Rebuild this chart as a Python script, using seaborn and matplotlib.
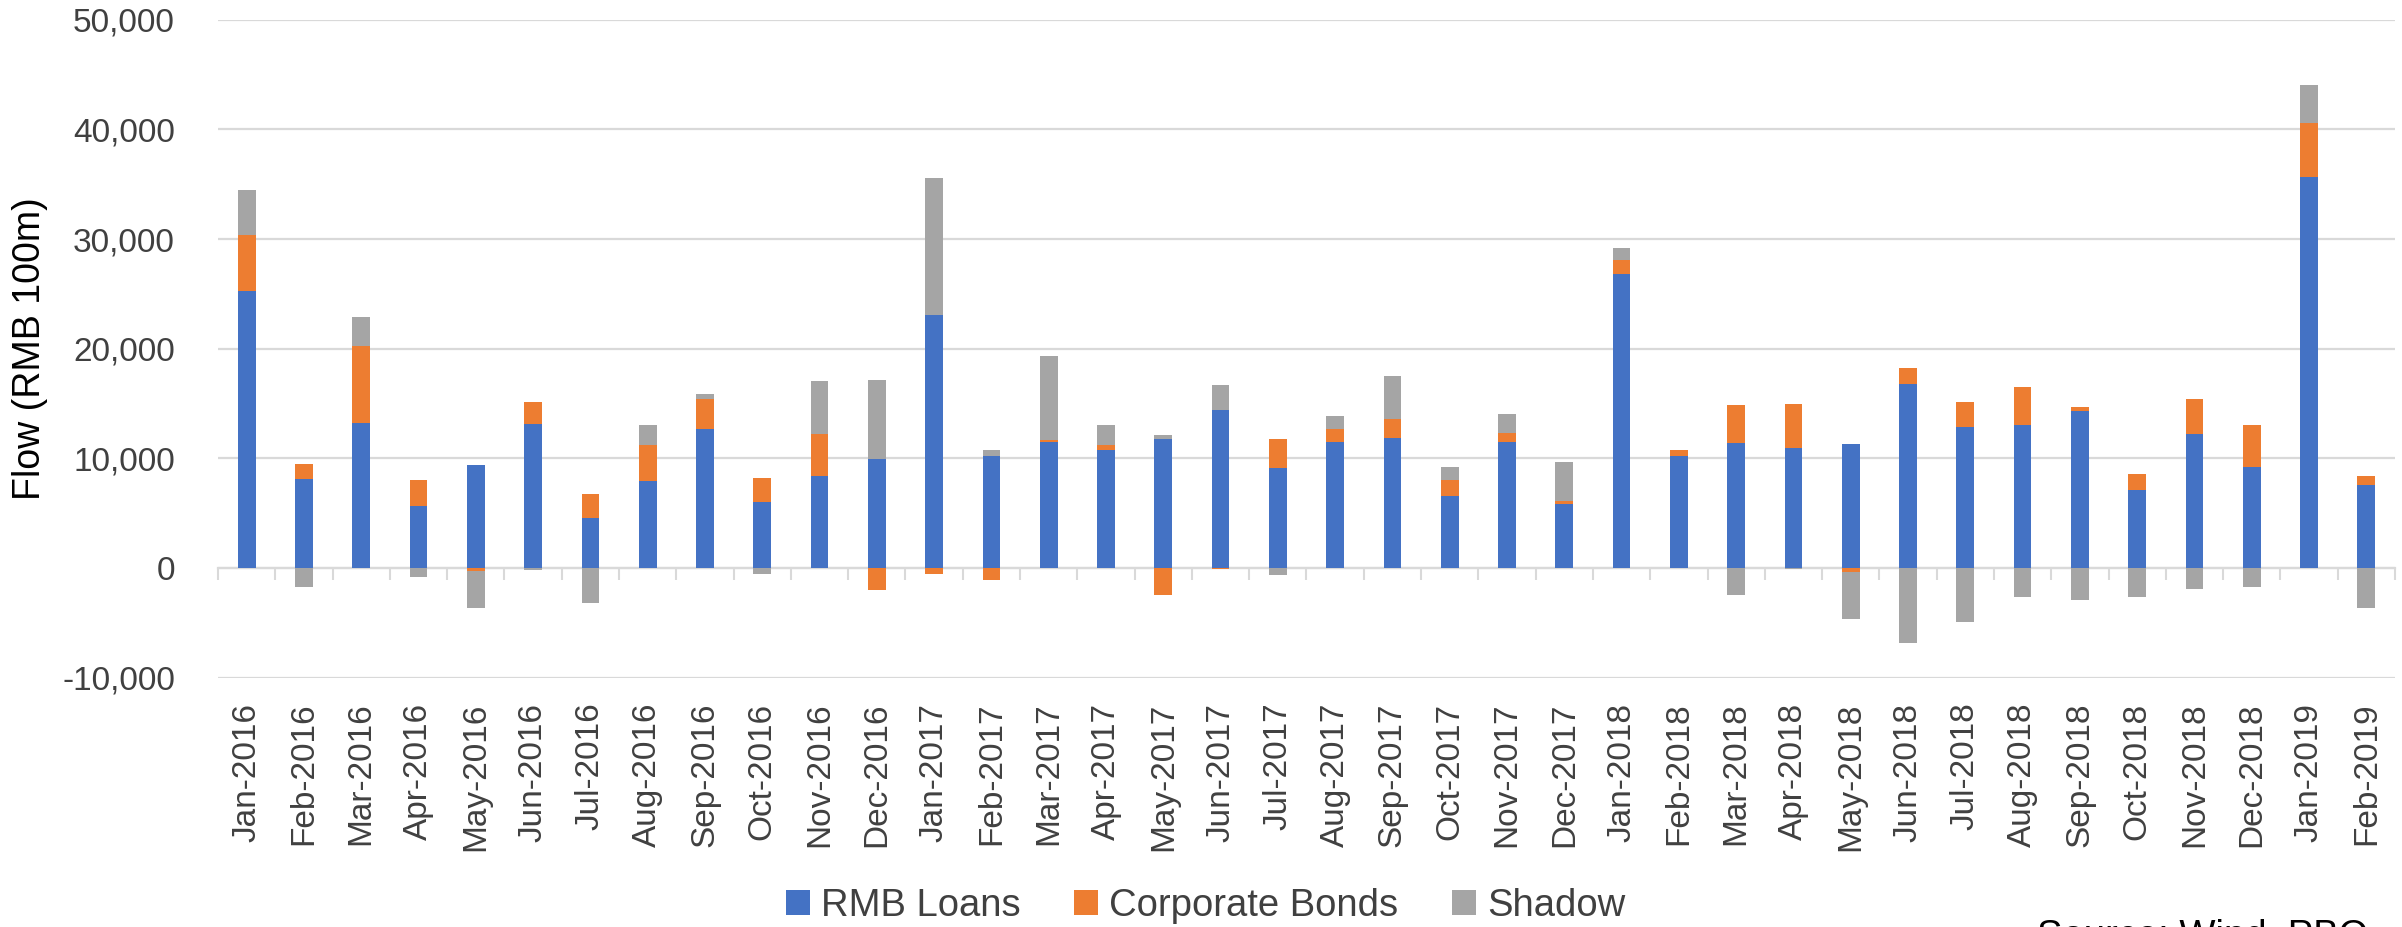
import numpy as np
import matplotlib
matplotlib.use("Agg")
import matplotlib.pyplot as plt
import seaborn as sns
import matplotlib.ticker as ticker
from matplotlib.patches import Patch

# Monthly flows (RMB 100m)
months = ['Jan-2016', 'Feb-2016', 'Mar-2016', 'Apr-2016', 'May-2016', 'Jun-2016',
          'Jul-2016', 'Aug-2016', 'Sep-2016', 'Oct-2016', 'Nov-2016', 'Dec-2016',
          'Jan-2017', 'Feb-2017', 'Mar-2017', 'Apr-2017', 'May-2017', 'Jun-2017',
          'Jul-2017', 'Aug-2017', 'Sep-2017', 'Oct-2017', 'Nov-2017', 'Dec-2017',
          'Jan-2018', 'Feb-2018', 'Mar-2018', 'Apr-2018', 'May-2018', 'Jun-2018',
          'Jul-2018', 'Aug-2018', 'Sep-2018', 'Oct-2018', 'Nov-2018', 'Dec-2018',
          'Jan-2019', 'Feb-2019']

rmb_loans = [25300, 8100, 13200, 5650, 9400, 13100, 4550, 7950, 12650, 6000, 8400, 9950,
             23100, 10250, 11500, 10800, 11800, 14450, 9150, 11450, 11900, 6600, 11450, 5800,
             26850, 10200, 11400, 10950, 11350, 16750, 12850, 13050, 14300, 7150, 12250, 9250,
             35650, 7600]

corporate_bonds = [5100, 1400, 7050, 2350, -250, 2050, 2200, 3250, 2800, 2200, 3850, -2000,
                   -500, -1100, 200, 450, -2450, -120, 2650, 1200, 1650, 1450, 900, 300,
                   1200, 600, 3450, 4000, -380, 1450, 2250, 3450, 380, 1450, 3150, 3750,
                   4950, 750]

shadow = [4050, -1700, 2600, -800, -3350, -170, -3150, 1800, 400, -500, 4800, 7200,
          12450, 550, 7600, 1800, 300, 2250, -600, 1250, 3950, 1150, 1700, 3550,
          1150, 0, -2500, -130, -4230, -6850, -4900, -2650, -2900, -2650, -1900, -1700,
          3450, -3600]

series_names = ['RMB Loans', 'Corporate Bonds', 'Shadow']
colors = ['#4472C4', '#ED7D31', '#A5A5A5']

# Excel-style stacking: positives stack upward, negatives stack downward
rmb = np.array(rmb_loans, dtype=float)
bonds = np.array(corporate_bonds, dtype=float)
shad = np.array(shadow, dtype=float)

top_blue = rmb
top_orange = top_blue + np.clip(bonds, 0, None)
top_grey = top_orange + np.clip(shad, 0, None)
neg_orange = np.clip(bonds, None, 0)
neg_grey = neg_orange + np.clip(shad, None, 0)

sns.set_style('white')
plt.rcParams['font.family'] = ['Liberation Sans', 'DejaVu Sans']

fig = plt.figure(figsize=(24.02, 9.27), dpi=100)
ax = fig.add_axes([218 / 2402, 1 - 677.7 / 927, 2177 / 2402, (677.7 - 19.7) / 927])

bar_w = 0.31
# draw from the outermost cumulative value inwards so segments overlap correctly
for vals, col in [(top_grey, colors[2]), (top_orange, colors[1]), (top_blue, colors[0]),
                  (neg_grey, colors[2]), (neg_orange, colors[1])]:
    sns.barplot(x=months, y=vals, order=months, color=col, saturation=1,
                width=bar_w, linewidth=0, ax=ax, zorder=3)

ax.set_xlim(-0.5, len(months) - 0.5)
ax.set_ylim(-10000, 50000)
ax.yaxis.set_major_locator(ticker.MultipleLocator(10000))
ax.yaxis.set_major_formatter(ticker.FuncFormatter(lambda v, p: f'{v:,.0f}'))

for s in ax.spines.values():
    s.set_visible(False)
ax.grid(axis='y', color='#D9D9D9', linewidth=1.6, zorder=0)
ax.grid(axis='x', visible=False)
ax.set_axisbelow(True)

ax.tick_params(axis='y', length=0, pad=31, labelsize=24, labelcolor='#404040')
ax.tick_params(axis='x', length=0, pad=18, labelsize=24, labelcolor='#404040',
               labelrotation=90)
ax.set_xlabel('')
ax.set_ylabel('Flow (RMB 100m)', fontsize=27, color='#000000')
ax.yaxis.set_label_coords(-0.078, 0.5)

# category axis line with tick marks sitting on the zero line
secax = ax.secondary_xaxis(10000 / 60000)
secax.set_xticks(np.arange(-0.5, len(months), 1.0))
secax.set_xticklabels([])
secax.tick_params(direction='out', length=8.3, width=1.5, color='#D9D9D9')
secax.spines['bottom'].set_color('#D9D9D9')
secax.spines['bottom'].set_linewidth(1.6)

handles = [Patch(facecolor=c, edgecolor='none') for c in colors]
fig.legend(handles, series_names, loc='center', bbox_to_anchor=(0.502, 1 - 906 / 927),
           ncol=3, frameon=False, fontsize=27.5, handlelength=0.625, handleheight=0.625,
           handletextpad=0.29, columnspacing=1.4, labelcolor='#404040')

# source note sits partly below the bottom edge, as in the reference
fig.text(2037 / 2402, 1 - 919 / 927, 'Source: Wind, PBO', ha='left', va='top',
         fontsize=27.5, color='#000000')

fig.savefig('out.png', dpi=100)
